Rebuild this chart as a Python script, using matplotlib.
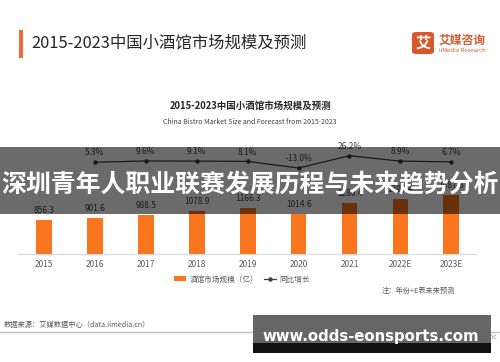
import matplotlib
matplotlib.use('Agg')
import matplotlib.pyplot as plt
from matplotlib.patches import Rectangle, FancyBboxPatch
from matplotlib.lines import Line2D
import numpy as np

plt.rcParams['font.family'] = ['Noto Sans CJK SC', 'DejaVu Sans']

# data
years = ['2015', '2016', '2017', '2018', '2019', '2020', '2021', '2022E', '2023E']
market_size = [856.3, 901.6, 988.5, 1078.9, 1166.3, 1014.6, 1280.4, 1394.4, 1487.8]
growth = [5.3, 9.6, 9.1, 8.1, -13.0, 26.2, 8.9, 6.7]
growth_years = years[1:]

W, H = 500, 362


def fx(x):
    return x / W


def fy(y):
    return 1 - y / H


fig = plt.figure(figsize=(5, 3.62), dpi=100)
fig.patch.set_facecolor('white')

# header
fig.patches.append(Rectangle((fx(19), fy(58)), 4 / W, 28 / H, transform=fig.transFigure,
                             facecolor='#EF6A3B', edgecolor='none'))
fig.text(fx(31), fy(43), '2015-2023中国小酒馆市场规模及预测', fontsize=11.8, color='#262626',
         va='center', ha='left')

# logo
fig.patches.append(FancyBboxPatch((fx(412), fy(54)), 22 / W, 22 / H, transform=fig.transFigure,
                                  boxstyle='round,pad=0,rounding_size=0.008',
                                  facecolor='#D9582B', edgecolor='none'))
fig.text(fx(423), fy(43), '艾', fontsize=11, color='white', weight='bold', ha='center', va='center')
fig.text(fx(439), fy(40), '艾媒咨询', fontsize=8.5, color='#D9582B', weight='bold', ha='left', va='center')
fig.text(fx(439), fy(50.5), 'iiMedia Research', fontsize=4.3, color='#D9582B', ha='left', va='center')

# inner titles
fig.text(fx(251), fy(105.5), '2015-2023中国小酒馆市场规模及预测', fontsize=6.8, weight='bold',
         color='#262626', ha='center', va='center')
fig.text(fx(250), fy(121.5), 'China Bistro Market Size and Forecast from 2015-2023', fontsize=5.0,
         color='#404040', ha='center', va='center')

# bars
ax = fig.add_axes([fx(18), fy(254), (476 - 18) / W, 114 / H])
x = np.arange(len(years))
bars = ax.bar(x, market_size, width=0.31, color='#F9761E', zorder=2)
ax.bar_label(bars, labels=[f'{v:.1f}' for v in market_size], padding=3.5, fontsize=6, color='#404040')
ax.set_xlim(-0.511, 8.485)
ax.set_ylim(0, 2873)
ax.set_xticks(x)
ax.set_xticklabels(years, fontsize=6, color='#595959')
ax.tick_params(axis='x', length=0, pad=4)
ax.set_yticks([])
for s in ['top', 'left', 'right']:
    ax.spines[s].set_visible(False)
ax.spines['bottom'].set_color('#D9D9D9')
ax.spines['bottom'].set_linewidth(0.8)
ax.patch.set_alpha(0)

# growth line
ax2 = ax.twinx()
gx = np.arange(1, len(years))
ax2.plot(gx, growth, color='#404040', lw=0.9, marker='o', markersize=2.2, zorder=3)
for xi, g in zip(gx, growth):
    ax2.annotate(f'{g:.1f}%', (xi, g), xytext=(0, 3.5), textcoords='offset points',
                 ha='center', va='bottom', fontsize=6, color='#404040')
ax2.set_ylim(-287, 76.3)
ax2.set_yticks([])
ax2.axis('off')

# legend
handles = [Rectangle((0, 0), 1, 1, facecolor='#F9761E', edgecolor='none'),
           Line2D([], [], color='#404040', lw=0.9, marker='o', markersize=2.2)]
fig.legend(handles, ['酒馆市场规模（亿）', '同比增长'], loc='center', ncol=2,
           bbox_to_anchor=(fx(242), fy(279.5)), frameon=False, fontsize=5.5,
           labelcolor='#595959', handlelength=1.6, handleheight=0.6,
           handletextpad=0.4, columnspacing=0.8)
fig.text(fx(382), fy(291), '注：年份+E表未来预测', fontsize=5.2, color='#595959', ha='left', va='center')

# footer
fig.text(fx(4), fy(325), '数据来源：艾媒数据中心（data.iimedia.cn）', fontsize=5.2, color='#595959',
         ha='left', va='center')
fig.add_artist(Line2D([0, 1], [fy(331.5), fy(331.5)], transform=fig.transFigure,
                      color='#BFBFBF', lw=1))
fig.text(fx(497), fy(337), 'Copyright © 2019 iiMedia Research Inc', fontsize=4.8, color='#8C8C8C',
         ha='right', va='center')

# overlay banners
fig.patches.append(Rectangle((0, fy(214)), 1, 67 / H, transform=fig.transFigure,
                             facecolor='black', alpha=0.58, edgecolor='none', zorder=10))
fig.text(0.5, fy(184), '深圳青年人职业联赛发展历程与未来趋势分析', fontsize=17.9, weight='bold',
         color='white', ha='center', va='center', zorder=11)

fig.patches.append(Rectangle((fx(253), fy(343)), (491 - 253) / W, 28 / H, transform=fig.transFigure,
                             facecolor='#666666', edgecolor='none', zorder=10))
fig.patches.append(Rectangle((fx(253), fy(353)), (491 - 253) / W, 10 / H, transform=fig.transFigure,
                             facecolor='#111111', edgecolor='none', zorder=10))
fig.text(fx(371), fy(336.5), 'www.odds-eonsports.com', fontsize=10.7, weight='bold',
         color='white', ha='center', va='center', family='DejaVu Sans', zorder=11)

fig.savefig('out.png', dpi=100)
